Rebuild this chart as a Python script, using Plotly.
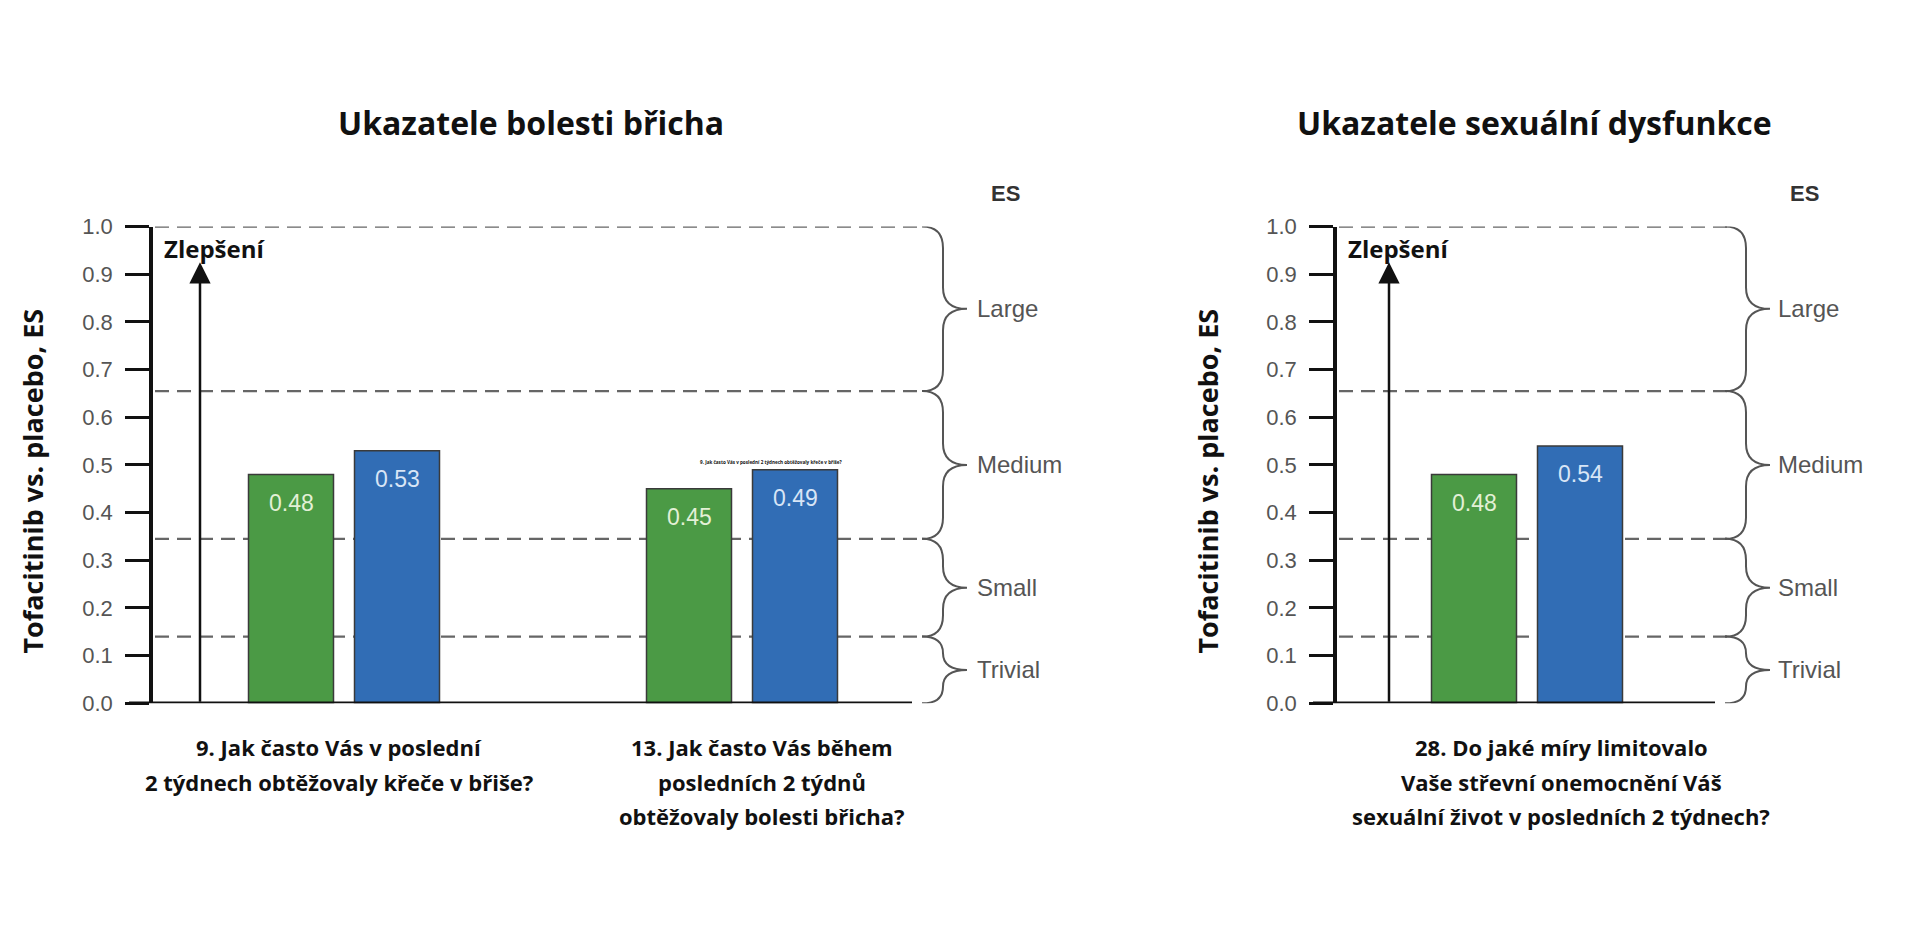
import plotly.graph_objects as go

# ---------------- data ----------------
left_categories = [["9. Jak často Vás v poslední", "2 týdnech obtěžovaly křeče v břiše?"],
                   ["13. Jak často Vás během", "posledních 2 týdnů", "obtěžovaly bolesti břicha?"]]
left_green = [0.48, 0.45]
left_blue = [0.53, 0.49]

right_categories = [["28. Do jaké míry limitovalo", "Vaše střevní onemocnění Váš",
                     "sexuální život v posledních 2 týdnech?"]]
right_green = [0.48]
right_blue = [0.54]

thresholds = [0.0, 0.14, 0.345, 0.655, 1.0]
band_labels = ["Trivial", "Small", "Medium", "Large"]
y_ticks = [0.0, 0.1, 0.2, 0.3, 0.4, 0.5, 0.6, 0.7, 0.8, 0.9, 1.0]
y_ticktext = ["0.0", "0.1", "0.2", "0.3", "0.4", "0.5", "0.6", "0.7", "0.8", "0.9", "1.0"]

titles = ["Ukazatele bolesti břicha", "Ukazatele sexuální dysfunkce"]
y_title = "Tofacitinib vs. placebo, ES"
arrow_text = "Zlepšení"
es_label = "ES"
tiny_note = "9. Jak často Vás v poslední 2 týdnech obtěžovaly křeče v břiše?"

# ---------------- style ----------------
W, H = 1920, 944
GREEN = "#4b9a45"
BLUE = "#316db5"
GREEN_TXT = "#e3f0d6"
BLUE_TXT = "#d8e5f6"
GRAY = "#555555"
DASH = "#666666"

PX_PER_UNIT = 398.0
BAR_W = 85 / PX_PER_UNIT
HALF_SEP = 53 / PX_PER_UNIT
VSCALE = 0.97  # compensation for vertical rendering compression


def vy(px):
    """target pixel row -> layout pixel row"""
    return H / 2 + (px - H / 2) / VSCALE


def py(px):
    return 1 - vy(px) / H


def px_x(px):
    return px / W


y_top_px, y_bot_px = 228, 703
cat_first_line_px, cat_line_step = 747, 34

panels = [
    dict(xa="x", ya="y", axis_px=153, end_px=912, first_center_px=344, cats=left_categories,
         green=left_green, blue=left_blue, brace_px=943, label_px=975, es_px=1005,
         dash_end_px=918, arrow_px=200, zl_px=162, ytitle_px=33, title_px=531,
         cat_shift=[-5, 20]),
    dict(xa="x2", ya="y2", axis_px=1337, end_px=1715, first_center_px=1527, cats=right_categories,
         green=right_green, blue=right_blue, brace_px=1746, label_px=1776, es_px=1804,
         dash_end_px=1727, arrow_px=1389, zl_px=1346, ytitle_px=1208, title_px=1534,
         cat_shift=[34]),
]

fig = go.Figure()
shapes = []
annotations = []

for i, p in enumerate(panels):
    n = len(p["cats"])
    xs = list(range(n))
    x0 = -(p["first_center_px"] - p["axis_px"]) / PX_PER_UNIT
    x1 = (n - 1) + (p["end_px"] - (p["first_center_px"] + (n - 1) * PX_PER_UNIT)) / PX_PER_UNIT

    def dx(px, p=p, x0=x0):
        return x0 + (px - p["axis_px"]) / PX_PER_UNIT

    for vals, col, txtcol, off in [(p["green"], GREEN, GREEN_TXT, -HALF_SEP),
                                   (p["blue"], BLUE, BLUE_TXT, HALF_SEP)]:
        fig.add_trace(go.Bar(
            x=xs, y=vals, xaxis=p["xa"], yaxis=p["ya"], width=BAR_W,
            offset=off - BAR_W / 2, marker=dict(color=col, line=dict(color="#3a3a3a", width=1.5)),
            showlegend=False, hoverinfo="skip"))
        for k, v in enumerate(vals):
            annotations.append(dict(text=f"{v:.2f}", xref=p["xa"], yref=p["ya"], x=xs[k] + off, y=v,
                                    yshift=-28, xanchor="center", yanchor="middle", showarrow=False,
                                    font=dict(family="Liberation Sans", size=23, color=txtcol)))

    xname = "xaxis" if i == 0 else "xaxis2"
    yname = "yaxis" if i == 0 else "yaxis2"
    fig.update_layout(**{
        xname: dict(domain=[px_x(p["axis_px"]), px_x(p["end_px"])], range=[x0, x1],
                    showgrid=False, zeroline=False, showticklabels=False, ticks="",
                    showline=False, anchor=p["ya"], fixedrange=True),
        yname: dict(domain=[py(y_bot_px), py(y_top_px)], range=[0, 1], anchor=p["xa"],
                    tickvals=y_ticks, ticktext=y_ticktext, ticks="outside", ticklen=24, tickwidth=3,
                    tickcolor="#111111", showline=True, linewidth=3.5, linecolor="#111111",
                    showgrid=False, zeroline=False, ticklabelstandoff=8,
                    tickfont=dict(family="Liberation Sans", size=22, color=GRAY), fixedrange=True),
    })

    yref = p["ya"]
    # x axis baseline (including the 0.0 tick extension)
    shapes.append(dict(type="line", xref="paper", yref=yref,
                       x0=px_x(p["axis_px"] - 24), x1=px_x(p["end_px"]), y0=0, y1=0,
                       line=dict(color="#111111", width=3.5), layer="above"))
    # dashed threshold lines
    for t in thresholds[1:]:
        shapes.append(dict(type="line", xref="paper", yref=yref,
                           x0=px_x(p["axis_px"] + 2), x1=px_x(p["dash_end_px"]), y0=t, y1=t,
                           line=dict(color=DASH, width=2.4, dash="14px,8px"), layer="below"))
    # braces
    xl = px_x(p["brace_px"] - 21)
    xv = px_x(p["brace_px"])
    xp = px_x(p["brace_px"] + 24)
    for a, b, lab in zip(thresholds[:-1], thresholds[1:], band_labels):
        m = (a + b) / 2
        r = min(0.045, (b - a) / 4)
        path = (f"M {xl},{b} Q {xv},{b} {xv},{b - r} L {xv},{m + r} "
                f"Q {xv},{m} {xp},{m} Q {xv},{m} {xv},{m - r} L {xv},{a + r} Q {xv},{a} {xl},{a}")
        shapes.append(dict(type="path", xref="paper", yref=yref, path=path,
                           line=dict(color=GRAY, width=2)))
        annotations.append(dict(text=lab, xref="paper", yref=yref, x=px_x(p["label_px"]), y=m,
                                xanchor="left", yanchor="middle", showarrow=False,
                                font=dict(family="Liberation Sans", size=24, color=GRAY)))
    annotations.append(dict(text=f"<b>{es_label}</b>", xref="paper", yref="paper", x=px_x(p["es_px"]),
                            y=py(195), xanchor="center", yanchor="middle", showarrow=False,
                            font=dict(family="Liberation Sans", size=22, color="#333333")))
    # improvement arrow
    ax_x = dx(p["arrow_px"])
    annotations.append(dict(text="", xref=p["xa"], yref=yref, x=ax_x, y=0.925,
                            axref=p["xa"], ayref=yref, ax=ax_x, ay=0.0, showarrow=True,
                            arrowhead=2, arrowsize=1.7, arrowwidth=2.5, arrowcolor="#111111"))
    annotations.append(dict(text=f"<b>{arrow_text}</b>", xref="paper", yref=yref,
                            x=px_x(p["zl_px"]), y=0.955, xanchor="left", yanchor="middle",
                            showarrow=False, font=dict(family="Open Sans", size=24, color="#111111")))
    # y title
    annotations.append(dict(text=f"<b>{y_title}</b>", xref="paper", yref="paper",
                            x=px_x(p["ytitle_px"]), y=py(482), textangle=-90,
                            xanchor="center", yanchor="middle", showarrow=False,
                            font=dict(family="Open Sans", size=27, color="#111111")))
    # panel title
    annotations.append(dict(text=f"<b>{titles[i]}</b>", xref="paper", yref="paper",
                            x=px_x(p["title_px"]), y=py(124), xanchor="center", yanchor="middle",
                            showarrow=False, font=dict(family="Open Sans", size=32, color="#111111")))
    # category labels (one annotation per line for the wider line spacing)
    for k, lines in enumerate(p["cats"]):
        for j, line in enumerate(lines):
            annotations.append(dict(text=f"<b>{line}</b>", xref=p["xa"], yref="paper", x=xs[k],
                                    xshift=p["cat_shift"][k],
                                    y=py(cat_first_line_px + j * cat_line_step),
                                    xanchor="center", yanchor="middle", showarrow=False,
                                    font=dict(family="Open Sans", size=22, color="#111111")))

# tiny note above second blue bar of left panel
annotations.append(dict(text=f"<b>{tiny_note}</b>", xref="x", yref="y", x=1 + HALF_SEP - 0.06,
                        y=left_blue[1] + 0.006, xanchor="center", yanchor="bottom", showarrow=False,
                        font=dict(family="Open Sans", size=4.6, color="#111111")))

fig.update_layout(width=W, height=H, autosize=False, margin=dict(l=0, r=0, t=0, b=0),
                  paper_bgcolor="white", plot_bgcolor="rgba(0,0,0,0)", barmode="overlay",
                  shapes=shapes, annotations=annotations, showlegend=False)

fig.write_html("out.html", config={"displayModeBar": False},
               post_script="document.body.style.margin='0px';document.body.style.overflow='hidden';")
